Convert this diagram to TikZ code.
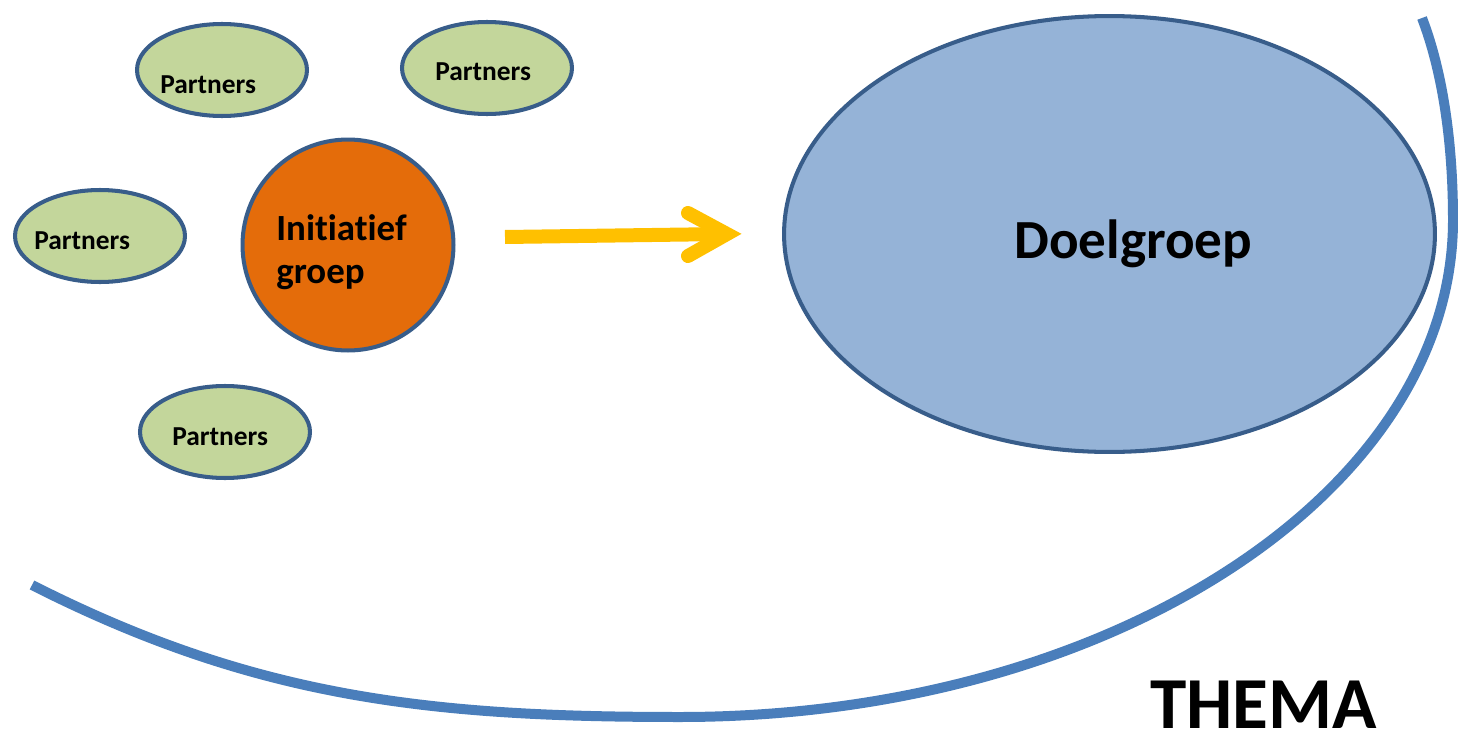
\documentclass[tikz,border=0pt]{standalone}
\usepackage{fontspec}
\setmainfont{Carlito}[Ligatures={NoCommon,NoContextual}]
\usetikzlibrary{shapes.geometric}
\definecolor{pgreen}{HTML}{C3D69B}
\definecolor{pborder}{HTML}{385D8A}
\definecolor{porange}{HTML}{E46C0A}
\definecolor{pblue}{HTML}{95B3D7}
\definecolor{parc}{HTML}{4A7EBB}
\definecolor{parrow}{HTML}{FFC000}
\tikzset{
  partner/.style={ellipse, draw=pborder, fill=pgreen, line width=2.3pt, minimum width=3.4cm, minimum height=1.84cm, inner sep=0pt},
  ptext/.style={anchor=base west, inner sep=0pt, font=\bfseries\fontsize{15.6}{18}\selectfont},
  initc/.style={circle, draw=pborder, fill=porange, line width=2.3pt, minimum size=4.22cm, inner sep=0pt},
  itext/.style={anchor=base west, inner sep=0pt, font=\bfseries\fontsize{21}{25}\selectfont},
  doel/.style={ellipse, draw=pborder, fill=pblue, line width=2.3pt, minimum width=13.02cm, minimum height=8.72cm, inner sep=0pt},
  dtext/.style={anchor=base west, inner sep=0pt, font=\bfseries\fontsize{31.4}{36}\selectfont},
  ttext/.style={anchor=base west, inner sep=0pt, font=\bfseries\fontsize{41.7}{48}\selectfont},
  bigarc/.style={draw=parc, line width=0.2cm},
  yarrow/.style={draw=parrow, line width=0.28cm}
}
\begin{document}
\begin{tikzpicture}[x=0.02cm, y=-0.02cm]
\useasboundingbox (0,0) rectangle (1458,737);
% big theme arc
\coordinate (a0) at (32,585);
\coordinate (a1) at (680,717);
\coordinate (a2) at (1453,220);
\coordinate (a3) at (1422,18);
\draw[bigarc] (a0) .. controls (255,698) and (430,717) .. (a1)
  .. controls (1107,717) and (1453,494) .. (a2)
  .. controls (1453,140) and (1442,70) .. (a3);
% partners
\node[partner] (p1) at (222,70) {};
\node[partner] (p2) at (487,68) {};
\node[partner] (p3) at (100,236) {};
\node[partner] (p4) at (225,432) {};
\node[ptext] (t1) at (160,93) {Partners};
\node[ptext] (t2) at (435,80) {Partners};
\node[ptext] (t3) at (34,249) {Partners};
\node[ptext] (t4) at (172,445) {Partners};
% initiatief groep
\node[initc] (ini) at (348,245) {};
\node[itext] (it1) at (276,240) {Initiatief};
\node[itext] (it2) at (276,283) {groep};
% doelgroep
\node[doel] (doel) at (1109.5,234) {};
\node[dtext] (dt) at (1014,258) {Doelgroep};
% thema
\node[ttext] (thema) at (1150,728) {THEMA};
% arrow
\coordinate (arS) at (505,237);
\coordinate (arE) at (725,234);
\coordinate (arT) at (727,234);
\coordinate (arU) at (688,213);
\coordinate (arD) at (688,256);
\draw[yarrow] (arS) -- (arE);
\draw[yarrow, line cap=round, line join=miter] (arU) -- (arT) -- (arD);
\end{tikzpicture}
\end{document}
